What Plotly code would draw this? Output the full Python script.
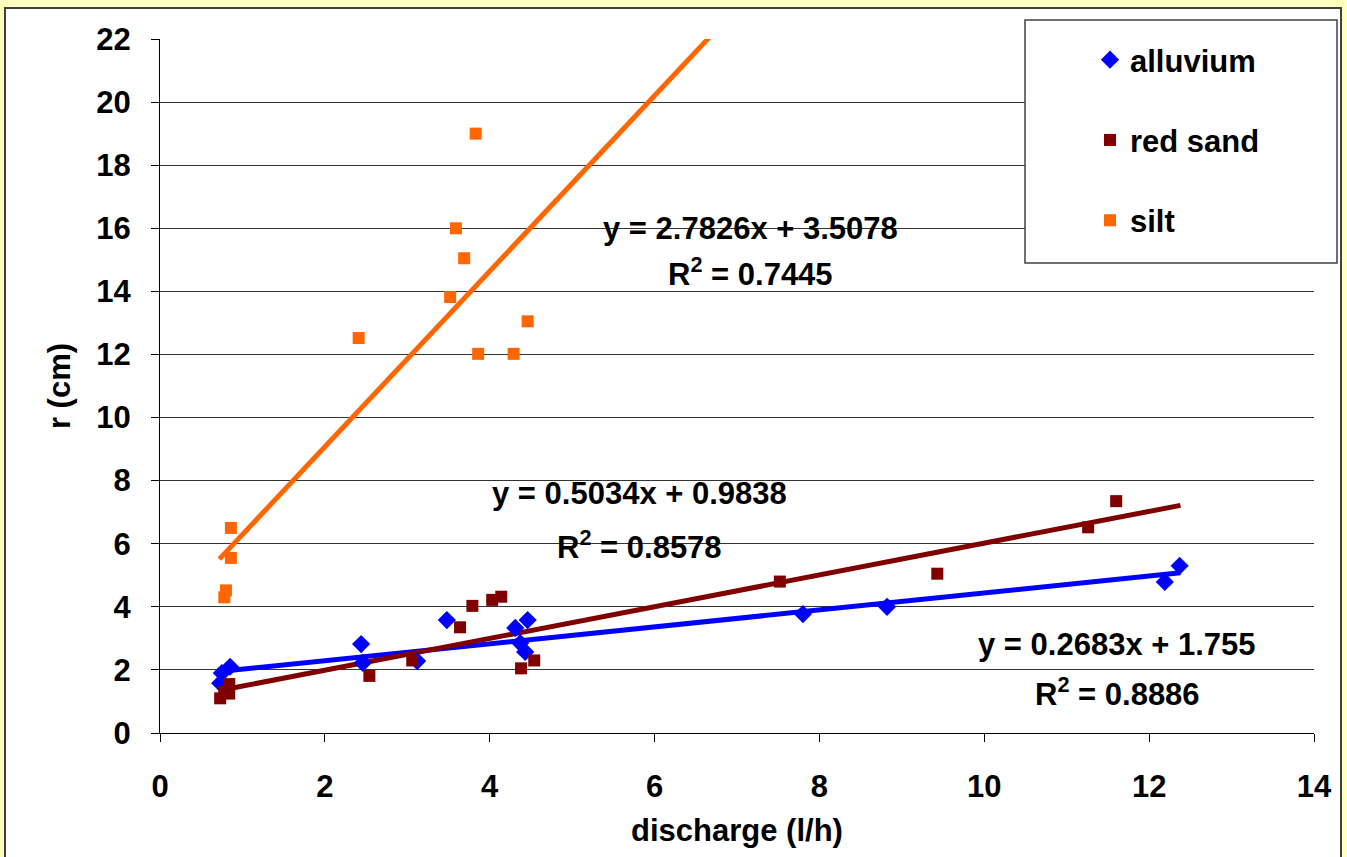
import plotly.graph_objects as go

# ---- data ----
series_names = ["alluvium", "red sand", "silt"]

alluvium_x = [0.73, 0.75, 0.85, 2.44, 2.46, 3.12, 3.48, 4.31, 4.37, 4.43, 4.46, 7.80, 8.82, 12.19, 12.37]
alluvium_y = [1.58, 1.90, 2.10, 2.82, 2.22, 2.28, 3.58, 3.33, 2.85, 2.57, 3.58, 3.77, 4.00, 4.79, 5.30]

redsand_x = [0.73, 0.78, 0.84, 0.84, 2.54, 3.06, 3.64, 3.79, 4.03, 4.14, 4.38, 4.54, 7.52, 9.43, 11.26, 11.60]
redsand_y = [1.10, 1.30, 1.55, 1.25, 1.81, 2.30, 3.35, 4.03, 4.22, 4.32, 2.05, 2.30, 4.80, 5.05, 6.52, 7.35]

silt_x = [0.78, 0.80, 0.86, 0.86, 2.41, 3.52, 3.59, 3.69, 3.83, 3.86, 4.29, 4.46]
silt_y = [4.30, 4.52, 5.55, 6.50, 12.52, 13.82, 16.00, 15.05, 19.00, 12.02, 12.02, 13.05]

slopes = [0.2683, 0.5034, 2.7826]
intercepts = [1.755, 0.9838, 3.5078]
r_squared = ["0.8886", "0.8578", "0.7445"]
slope_text = ["0.2683", "0.5034", "2.7826"]
intercept_text = ["1.755", "0.9838", "3.5078"]
trend_x = [0.72, 12.38]

x_ticks = [0, 2, 4, 6, 8, 10, 12, 14]
y_ticks = [0, 2, 4, 6, 8, 10, 12, 14, 16, 18, 20, 22]

# ---- style ----
colors = ["#0000FF", "#800000", "#FF6600"]
symbols = ["diamond", "square", "square"]
msizes = [14, 12, 12]
FONT = "Liberation Sans, Arial, sans-serif"
FS = 31

W, H = 1347, 857
L, R, T, B = 160, 33, 39, 124
pw, ph = W - L - R, H - T - B

def px_to_paper_x(px):
    return (px - L) / pw

def px_to_paper_y(py):
    return (H - B - py) / ph

fig = go.Figure()

xs = [alluvium_x, redsand_x, silt_x]
ys = [alluvium_y, redsand_y, silt_y]

# trend lines first (behind markers)
for i in range(3):
    tx = trend_x
    ty = [slopes[i] * v + intercepts[i] for v in tx]
    fig.add_trace(go.Scatter(x=tx, y=ty, mode="lines", showlegend=False,
                             line=dict(color=colors[i], width=5), hoverinfo="skip"))

for i in range(3):
    fig.add_trace(go.Scatter(x=xs[i], y=ys[i], mode="markers", name=series_names[i],
                             legendgroup=series_names[i],
                             marker=dict(symbol=symbols[i], size=msizes[i], color=colors[i],
                                         line=dict(width=0))))

bold = dict(family=FONT, size=FS, color="black", weight="bold")

# equation annotations
eq_pos = [(11.61, 2.79, 1.30), (5.82, 7.60, 5.96), (7.16, 16.0, 14.6)]
for i in range(3):
    ex, ey, ry = eq_pos[i]
    fig.add_annotation(x=ex, y=ey, xref="x", yref="y", showarrow=False,
                       text=f"y = {slope_text[i]}x + {intercept_text[i]}", font=bold)
    fig.add_annotation(x=ex, y=ry, xref="x", yref="y", showarrow=False,
                       text=f"R<sup>2</sup> = {r_squared[i]}", font=bold)

# white chart frame
fig.add_shape(type="rect", xref="paper", yref="paper", layer="below",
              x0=px_to_paper_x(5), x1=px_to_paper_x(1341),
              y0=px_to_paper_y(875), y1=px_to_paper_y(8),
              fillcolor="white", line=dict(color="#404040", width=2))
# legend box
fig.add_shape(type="rect", xref="paper", yref="paper", layer="above",
              x0=px_to_paper_x(1025), x1=px_to_paper_x(1337),
              y0=px_to_paper_y(263), y1=px_to_paper_y(20),
              fillcolor="white", line=dict(color="#404040", width=1.5))

fig.update_layout(
    width=W, height=H,
    margin=dict(l=L, r=R, t=T, b=B),
    paper_bgcolor="#FFFFC0",
    plot_bgcolor="#CCCCFF",
    font=dict(family=FONT, size=FS, color="black"),
    showlegend=True,
    legend=dict(x=px_to_paper_x(1090), y=px_to_paper_y(33), xanchor="left", yanchor="top",
                bgcolor="rgba(0,0,0,0)", borderwidth=0, tracegroupgap=37,
                traceorder="grouped", font=bold),
    xaxis=dict(range=[0, 14], tickvals=x_ticks, showgrid=False, zeroline=False,
               showline=True, linecolor="black", linewidth=1,
               ticks="outside", ticklen=8, tickcolor="black", ticklabelstandoff=18,
               tickfont=bold,
               title=dict(text="discharge (l/h)", standoff=16, font=bold)),
    yaxis=dict(range=[0, 22], tickvals=y_ticks, showgrid=True, gridcolor="#333333", gridwidth=1,
               zeroline=False, showline=True, linecolor="black", linewidth=1,
               ticks="outside", ticklen=8, tickcolor="black", ticklabelstandoff=14,
               tickfont=bold,
               title=dict(text="r (cm)", standoff=16, font=bold)),
)

fig.write_html("out.html", config={"displayModeBar": False},
               post_script="document.body.style.margin='0px';document.body.style.background='#FFFFC0';")
